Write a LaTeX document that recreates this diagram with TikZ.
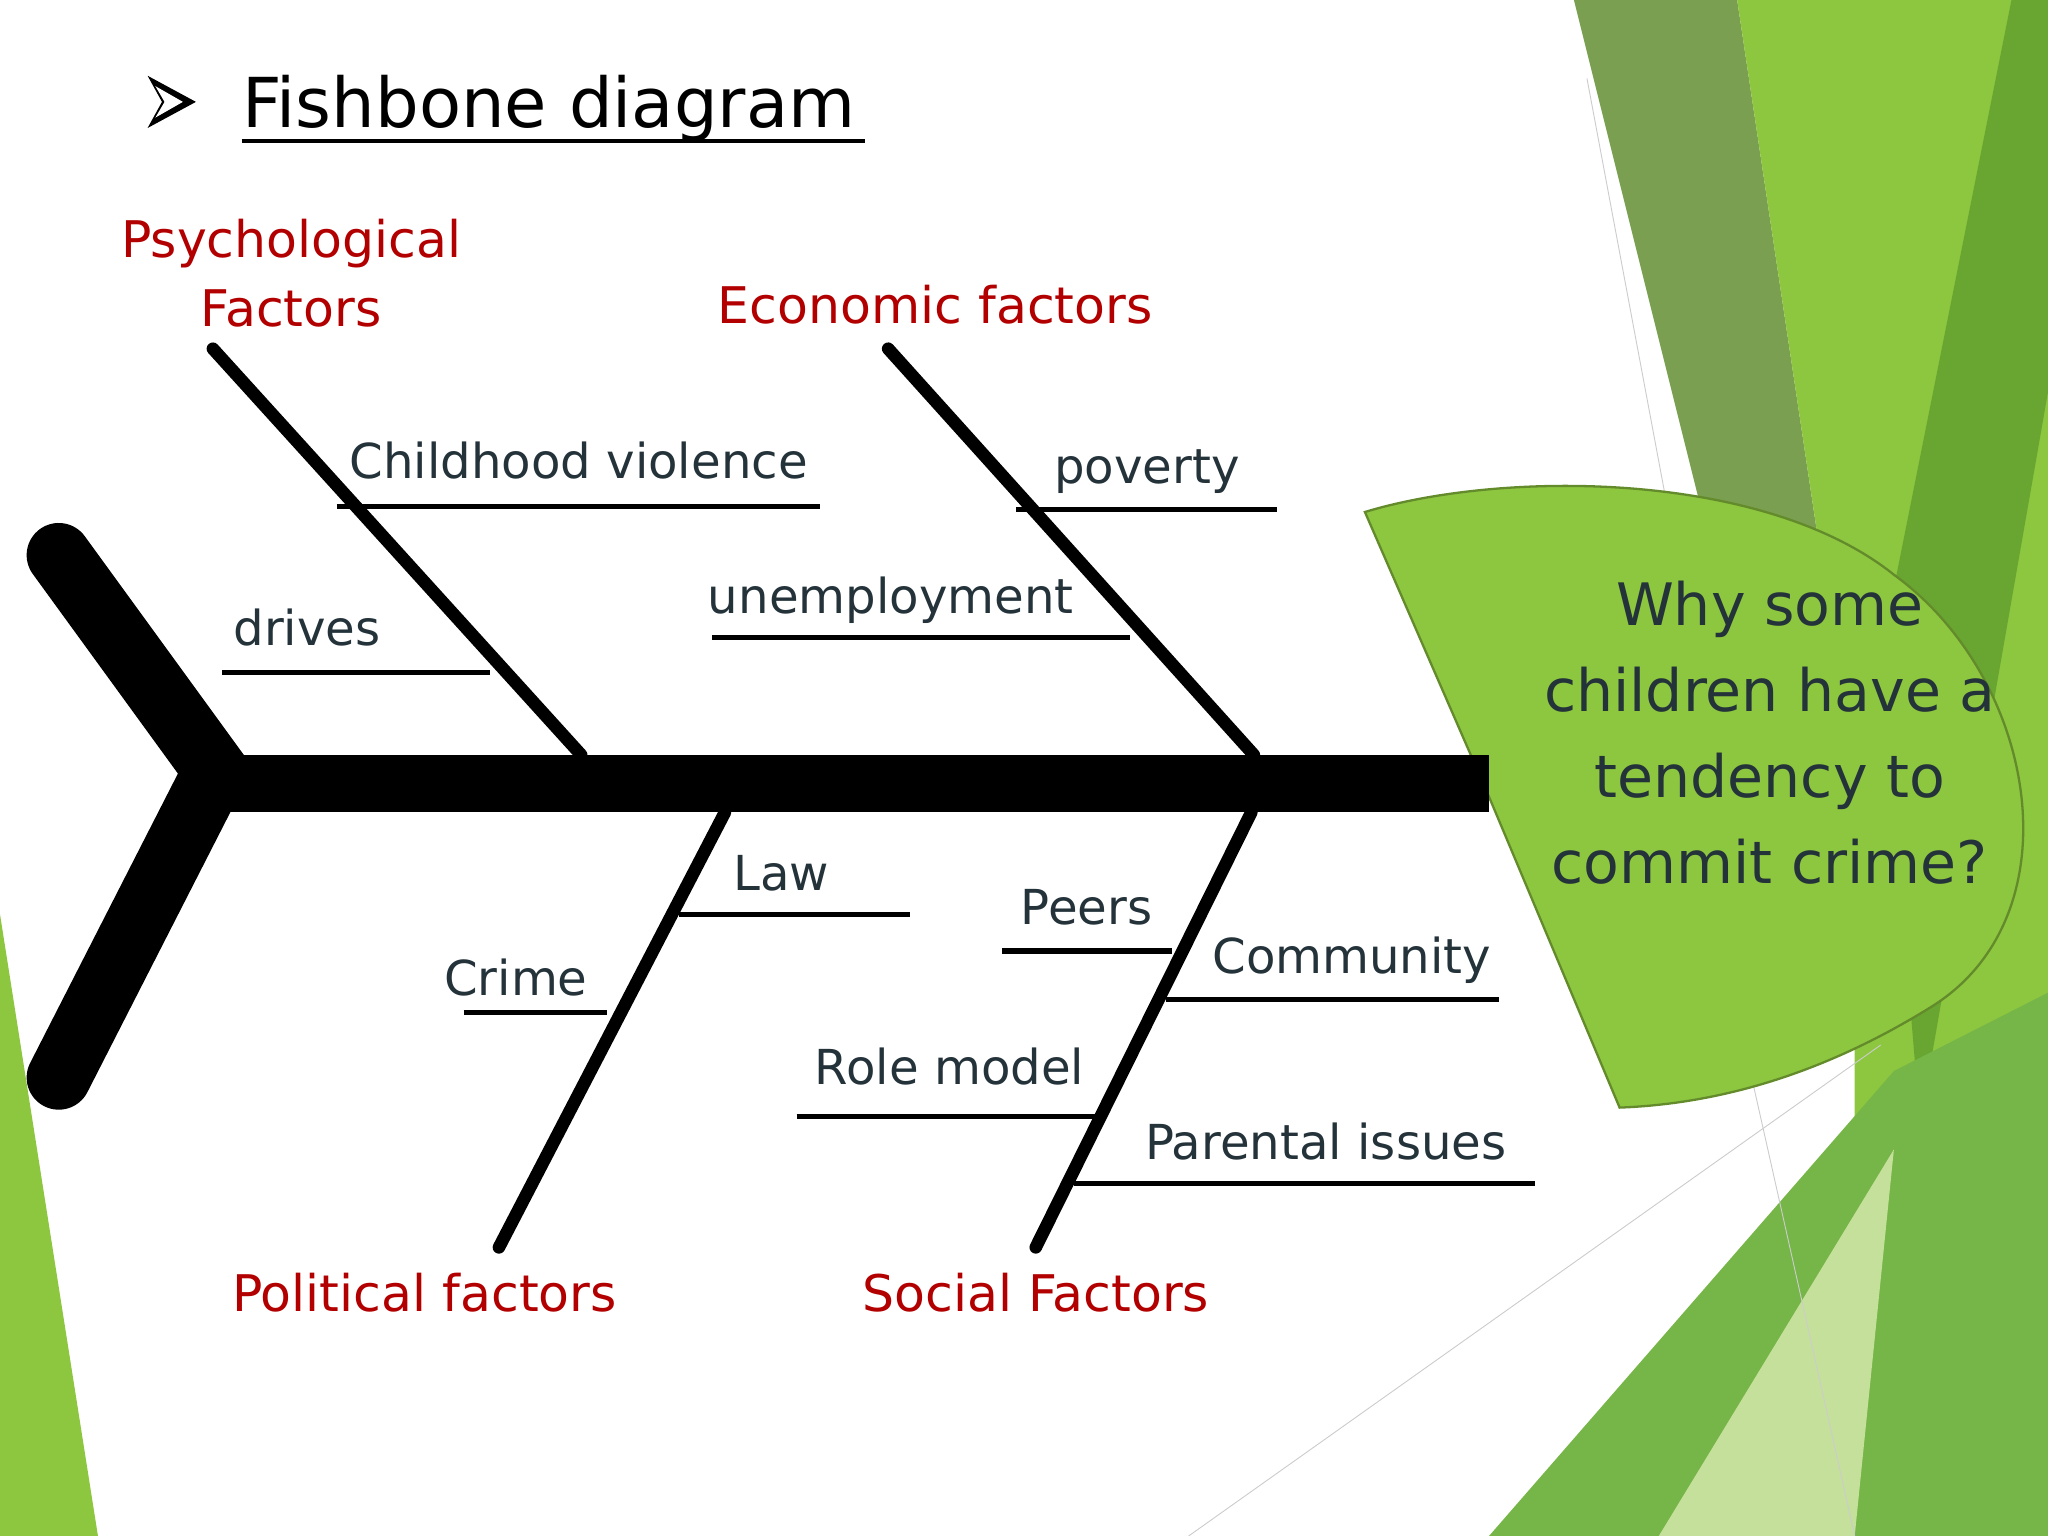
\documentclass[tikz,border=0pt]{standalone}
\usepackage{fontspec}
\setmainfont{DejaVu Sans}
\begin{document}
\begin{tikzpicture}[x=0.02cm,y=-0.02cm,
  lbl/.style={text=txt,font=\fontsize{21}{24}\selectfont,inner sep=0pt},
  cat/.style={text=red!70!black,font=\fontsize{22}{30}\selectfont,inner sep=0pt,align=center},
  bone/.style={line width=5.5pt,line cap=round},
  sub/.style={line width=2.3pt},
]
\definecolor{txt}{HTML}{24323A}
\definecolor{g1}{HTML}{8DC63F}
\definecolor{g2}{HTML}{7A9F50}
\definecolor{g3}{HTML}{5E9E2E}
\definecolor{g4}{HTML}{C5E09A}
\definecolor{g5}{HTML}{76B547}
\useasboundingbox (0,0) rectangle (1568,1176);
% background
\fill[g1] (0,700) -- (75,1176) -- (0,1176) -- cycle;
\fill[g2] (1205,0) -- (1330,0) -- (1420,600) -- (1300,380) -- cycle;
\fill[g1] (1330,0) -- (1568,0) -- (1568,1176) -- (1420,1176) -- (1420,600) -- cycle;
\fill[g3!80!g1] (1440,500) -- (1540,0) -- (1568,0) -- (1568,300) -- (1470,860) -- cycle;
\fill[g5] (1140,1176) -- (1450,820) -- (1568,760) -- (1568,1176) -- cycle;
\fill[g4] (1270,1176) -- (1450,880) -- (1420,1176) -- cycle;
\draw[gray!40] (1215,60) -- (1275,380);
\draw[gray!40] (1340,820) -- (1420,1176);
\draw[gray!40] (910,1176) -- (1440,800);
% title
\fill[black] (113,58) -- (150,78) -- (113,98) -- (124,78) -- cycle;
\fill[white] (119,66) -- (140,78) -- (119,90) -- (126,78) -- cycle;
\node[anchor=base west,inner sep=0pt,font=\fontsize{30}{34}\selectfont] (title) at (185,98) {Fishbone diagram};
\draw[line width=1.5pt] (185,108) -- (662,108);
% head
\draw[g1!70!black,fill=g1,line width=1pt] (1045,392) .. controls (1150,360) and (1350,360) .. (1450,440)
  .. controls (1560,520) and (1590,700) .. (1480,770) .. controls (1400,820) and (1320,845) .. (1240,848)
  -- (1140,610) -- cycle;
\node[text=txt,font=\fontsize{25.5}{37.5}\selectfont,align=center] (head) at (1355,561)
  {Why some\\children have a\\tendency to\\commit crime?};
% spine and tail
\coordinate (t1) at (45,425); \coordinate (t2) at (165,590); \coordinate (t3) at (45,825);
\draw[line width=28pt,line cap=round,line join=miter] (t1) -- (t2) -- (t3);
\coordinate (s0) at (160,600); \coordinate (s1) at (1140,600);
\draw[line width=25pt] (s0) -- (s1);
% bones
\coordinate (pA) at (163,267); \coordinate (pB) at (445,578);
\coordinate (eA) at (680,267); \coordinate (eB) at (960,578);
\coordinate (lA) at (555,622); \coordinate (lB) at (382,955);
\coordinate (oA) at (958,622); \coordinate (oB) at (793,955);
\draw[bone] (pA) -- (pB); \draw[bone] (eA) -- (eB);
\draw[bone] (lA) -- (lB); \draw[bone] (oA) -- (oB);
% sub lines
\foreach \n/\a/\b/\y in {cv/258/628/388, dr/170/375/515, po/778/978/390, un/545/865/488,
  la/520/697/700, cr/355/465/775, pe/767/897/728, co/893/1148/765, rm/610/838/855, pi/822/1175/906}{
  \coordinate (\n1) at (\a,\y); \coordinate (\n2) at (\b,\y);
  \draw[sub] (\n1) -- (\n2);}
\node[lbl,anchor=base] (Lcv) at (443,366) {Childhood violence};
\node[lbl,anchor=base] (Ldr) at (235,494) {drives};
\node[lbl,anchor=base] (Lpo) at (878,370) {poverty};
\node[lbl,anchor=base] (Lun) at (682,470) {unemployment};
\node[lbl,anchor=base] (Lla) at (598,682) {Law};
\node[lbl,anchor=base] (Lcr) at (395,762) {Crime};
\node[lbl,anchor=base] (Lpe) at (832,708) {Peers};
\node[lbl,anchor=base] (Lco) at (1035,745) {Community};
\node[lbl,anchor=base] (Lrm) at (727,830) {Role model};
\node[lbl,anchor=base] (Lpi) at (1015,888) {Parental issues};
% categories
\node[cat] (Cps) at (223,209) {Psychological\\Factors};
\node[cat] (Cec) at (716,233) {Economic factors};
\node[cat] (Cpo) at (325,990) {Political factors};
\node[cat] (Cso) at (793,990) {Social Factors};
\end{tikzpicture}
\end{document}
